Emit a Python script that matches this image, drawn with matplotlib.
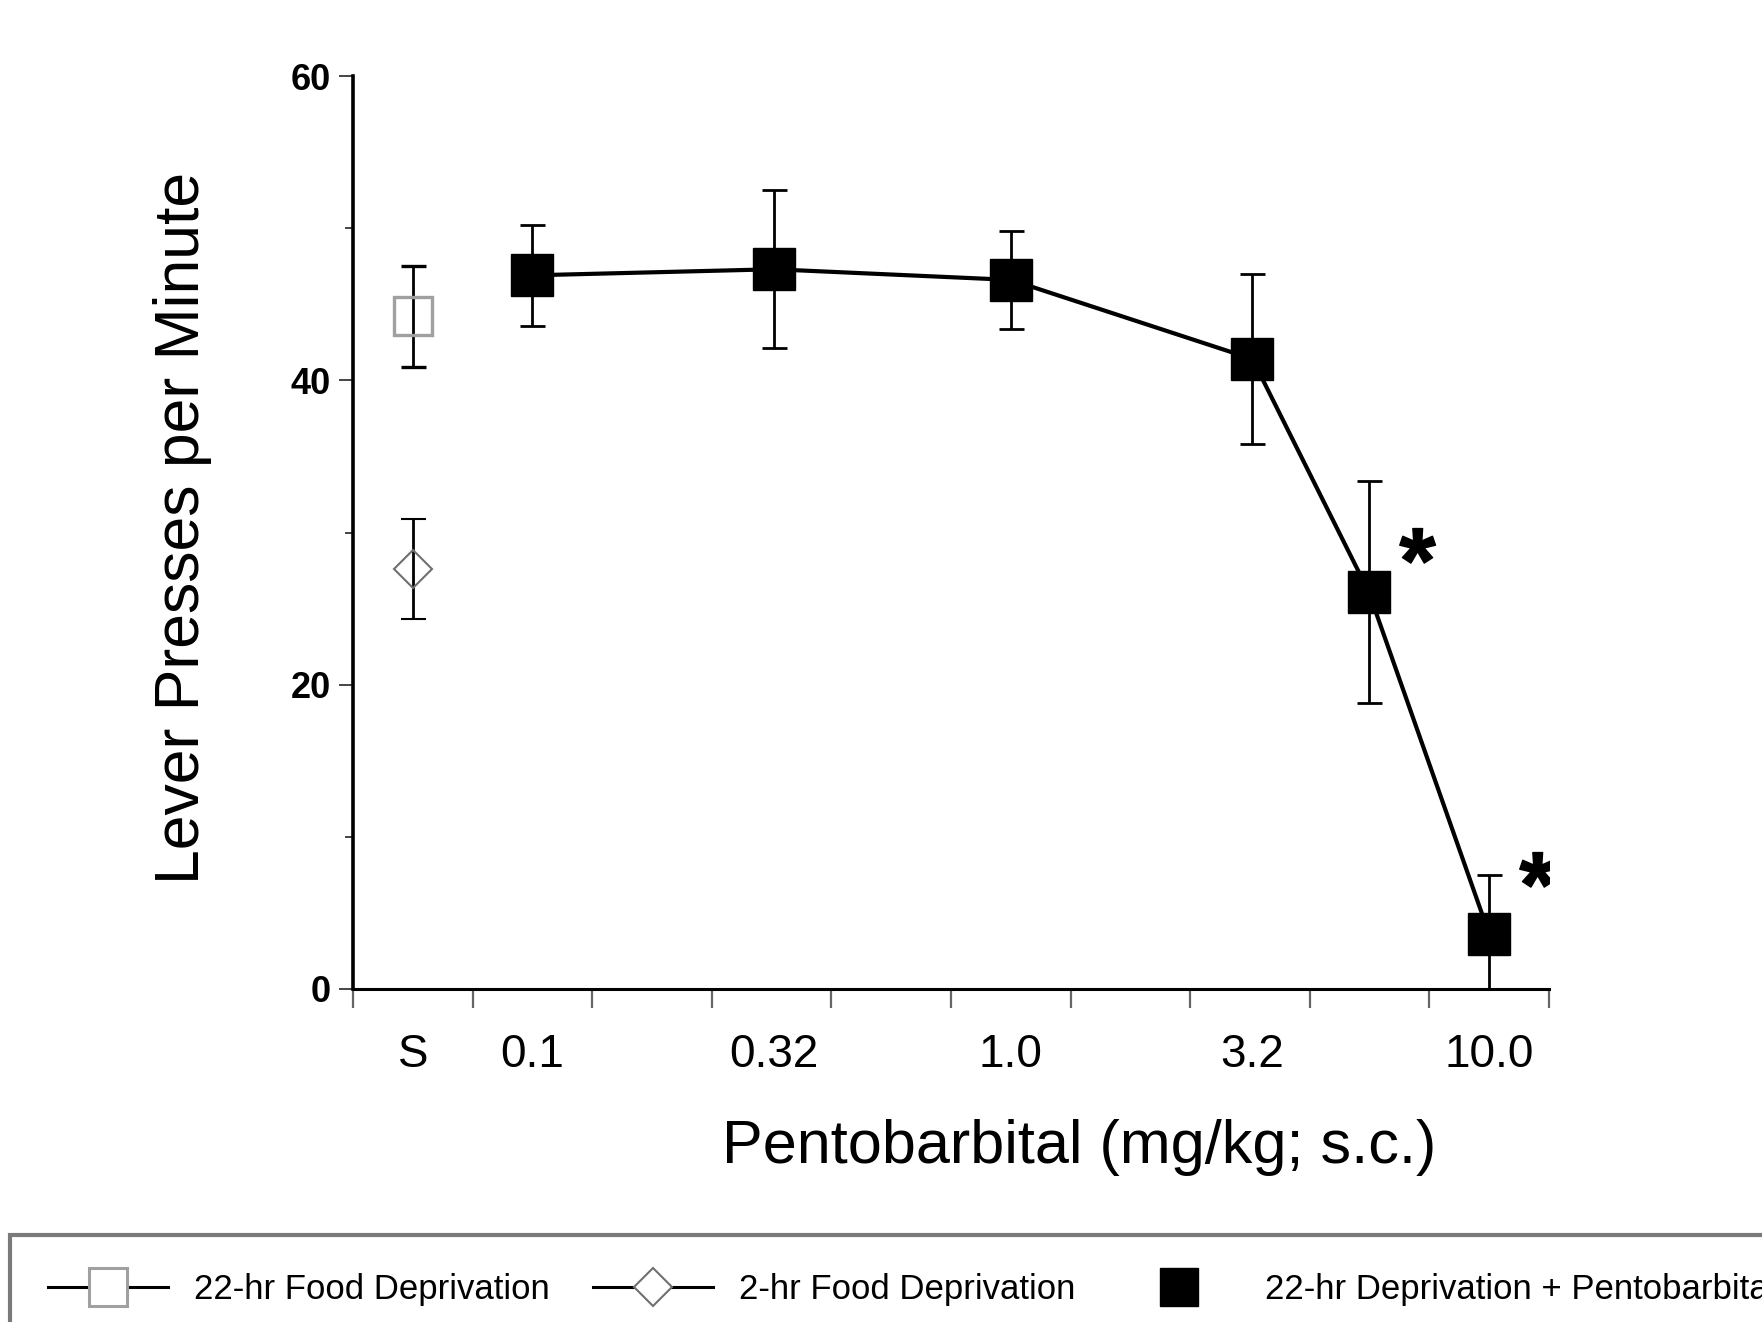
import numpy as np
import matplotlib
matplotlib.use("Agg")
import matplotlib.pyplot as plt
from matplotlib.lines import Line2D
from matplotlib.textpath import TextPath
from matplotlib.path import Path
from matplotlib.font_manager import FontProperties

plt.rcParams['font.family'] = ['Liberation Sans', 'DejaVu Sans']

# ---------------- data ----------------
dose_labels = ['S', '0.1', '0.32', '1.0', '3.2', '10.0']
pento_doses = [0.1, 0.32, 1.0, 3.2, 5.6, 10.0]
pento_mean = [46.9, 47.3, 46.6, 41.4, 26.1, 3.6]
pento_sem = [3.3, 5.2, 3.2, 5.6, 7.3, 3.9]
food22_mean = [44.2]
food22_sem = [3.3]
food2_mean = [27.6]
food2_sem = [3.3]
sig_doses = [5.6, 10.0]
sig_y = [28.2, 6.9]
legend_labels = ['22-hr Food Deprivation', '2-hr Food Deprivation',
                 '22-hr Deprivation + Pentobarbital']

# axis geometry: each slot is a quarter decade on a log dose axis
step = 10 ** 0.25
saline_x = pento_doses[0] / step
xmin = pento_doses[0] / step ** 1.5
xmax = pento_doses[-1] * step ** 0.5
slot_edges = xmin * step ** np.arange(11)
label_pos = [saline_x, 0.1, 0.32, 1.0, 3.2, 10.0]

W, H = 1762, 1322
fig = plt.figure(figsize=(W / 100, H / 100), dpi=100)
ax = fig.add_axes([353 / W, 1 - 989 / H, (1549 - 353) / W, (989 - 76) / H])

# pentobarbital series
ax.errorbar(pento_doses, pento_mean, yerr=pento_sem, fmt='s-', color='black',
            ms=30, mfc='black', mec='black', lw=3.0, elinewidth=2.0,
            capsize=9, capthick=2.0, zorder=3)
# 22-hr deprivation (saline)
ax.errorbar([saline_x], food22_mean, yerr=food22_sem, fmt='s', color='black',
            ms=28, mfc='none', mec='#a0a0a0', mew=2.4, elinewidth=2.0,
            capsize=9, capthick=2.0, zorder=3)
# 2-hr deprivation (saline)
ax.errorbar([saline_x], food2_mean, yerr=food2_sem, fmt='D', color='black',
            ms=19, mfc='none', mec='#707070', mew=1.5, elinewidth=2.0,
            capsize=9, capthick=2.0, zorder=3)

# significance asterisks (bold asterisk glyph as a marker)
tp = TextPath((0, 0), '*', prop=FontProperties(family='Liberation Sans', weight='bold'))
v = tp.vertices.copy()
v -= (v.max(axis=0) + v.min(axis=0)) / 2
star = Path(v, tp.codes)
ax.plot(np.array(sig_doses) * 10 ** 0.1, sig_y, linestyle='none',
        marker=star, ms=46, color='black', zorder=4)

ax.set_xscale('log')
ax.set_xlim(xmin, xmax)
ax.set_ylim(0, 60)

ax.xaxis.set_major_locator(matplotlib.ticker.FixedLocator(slot_edges))
ax.xaxis.set_major_formatter(matplotlib.ticker.NullFormatter())
ax.xaxis.set_minor_locator(matplotlib.ticker.FixedLocator(label_pos))
ax.xaxis.set_minor_formatter(matplotlib.ticker.FixedFormatter(dose_labels))
ax.tick_params(axis='x', which='major', length=14, width=1.6, color='#666666', direction='out')
ax.tick_params(axis='x', which='minor', length=0, pad=32, labelsize=33)

ax.set_yticks([0, 20, 40, 60])
ax.set_yticks([10, 30, 50], minor=True)
ax.tick_params(axis='y', which='major', length=10, width=1.4, color='#444444',
               labelsize=26, pad=6)
ax.tick_params(axis='y', which='minor', length=6, width=1.4, color='#444444')
for lab in ax.get_yticklabels():
    lab.set_fontweight('bold')

for s in ['top', 'right']:
    ax.spines[s].set_visible(False)
ax.spines['left'].set_linewidth(2.6)
ax.spines['bottom'].set_linewidth(2.2)

ax.set_ylabel('Lever Presses per Minute', fontsize=45, va='center')
ax.yaxis.set_label_coords((183 - 353) / (1549 - 353), (989 - 528) / (989 - 76))
ax.set_xlabel('Pentobarbital (mg/kg; s.c.)', fontsize=44, va='center')
ax.xaxis.set_label_coords((1079 - 353) / (1549 - 353), (989 - 1147) / (989 - 76))

# legend
handles = [
    Line2D([], [], color='black', lw=2.2, marker='s', ms=28, mfc='white', mec='#a0a0a0', mew=2.2),
    Line2D([], [], color='black', lw=2.2, marker='D', ms=19, mfc='white', mec='#707070', mew=1.5),
    Line2D([], [], color='black', lw=0, marker='s', ms=28, mfc='black', mec='black'),
]
leg = fig.legend(handles, legend_labels, loc='upper left',
                 bbox_to_anchor=(10 / W, 1 - 1235 / H), borderaxespad=0, ncol=3, fontsize=25,
                 handlelength=3.45, handletextpad=0.75, columnspacing=1.25,
                 borderpad=1.1, frameon=True, fancybox=False, framealpha=1,
                 edgecolor='#7a7a7a')
leg.get_frame().set_linewidth(3.0)

fig.savefig('out.png', dpi=100)
